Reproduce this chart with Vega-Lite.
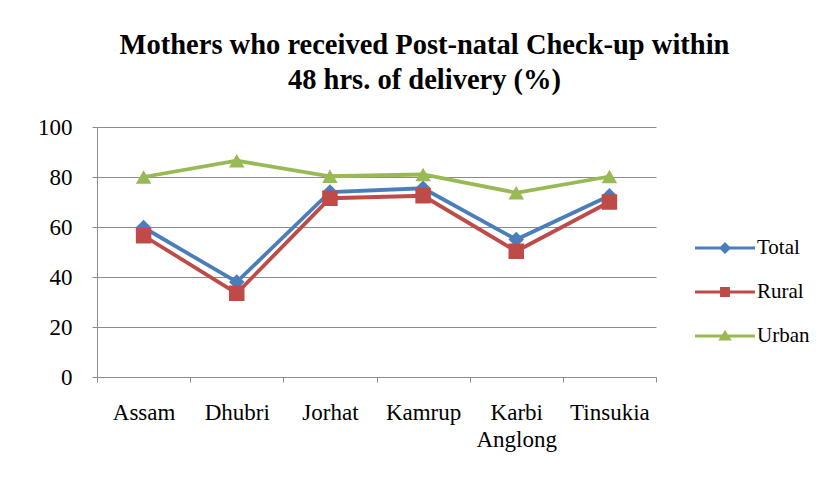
{
  "$schema": "https://vega.github.io/schema/vega-lite/v6.json",
  "width": 559,
  "height": 250,
  "autosize": {"type": "none"},
  "padding": {"left": 97, "top": 127, "right": 171, "bottom": 102},
  "background": "white",
  "title": {
    "text": ["Mothers who received  Post-natal Check-up within", "48 hrs. of delivery  (%)"],
    "font": "Liberation Serif, DejaVu Serif, serif",
    "fontSize": 28.5,
    "fontWeight": "bold",
    "color": "black",
    "lineHeight": 35,
    "anchor": "middle",
    "dx": 48,
    "offset": 22
  },
  "config": {
    "view": {"stroke": null},
    "font": "Liberation Serif",
    "axis": {
      "labelFont": "Liberation Serif",
      "labelFontSize": 23,
      "labelColor": "black",
      "domainColor": "#8c8c8c",
      "tickColor": "#8c8c8c",
      "gridColor": "#8c8c8c",
      "tickSize": 5,
      "title": null
    }
  },
  "data": {
    "values": [
      {"district": "Assam", "series": "Total", "value": 59.8},
      {"district": "Dhubri", "series": "Total", "value": 38.0},
      {"district": "Jorhat", "series": "Total", "value": 74.0},
      {"district": "Kamrup", "series": "Total", "value": 75.5},
      {"district": "Karbi Anglong", "series": "Total", "value": 55.0},
      {"district": "Tinsukia", "series": "Total", "value": 72.5},
      {"district": "Assam", "series": "Rural", "value": 56.5},
      {"district": "Dhubri", "series": "Rural", "value": 33.5},
      {"district": "Jorhat", "series": "Rural", "value": 71.5},
      {"district": "Kamrup", "series": "Rural", "value": 72.5},
      {"district": "Karbi Anglong", "series": "Rural", "value": 50.3},
      {"district": "Tinsukia", "series": "Rural", "value": 70.0},
      {"district": "Assam", "series": "Urban", "value": 80.0},
      {"district": "Dhubri", "series": "Urban", "value": 86.5},
      {"district": "Jorhat", "series": "Urban", "value": 80.3},
      {"district": "Kamrup", "series": "Urban", "value": 81.0},
      {"district": "Karbi Anglong", "series": "Urban", "value": 73.7},
      {"district": "Tinsukia", "series": "Urban", "value": 80.2}
    ]
  },
  "encoding": {
    "x": {
      "field": "district",
      "type": "nominal",
      "sort": null,
      "scale": {"paddingInner": 0, "paddingOuter": 0},
      "axis": {
        "labelAngle": 0,
        "labelPadding": 19,
        "labelLineHeight": 27,
        "labelBaseline": "top",
        "labelExpr": "split(datum.label, ' ')",
        "tickBand": "extent",
        "grid": false
      }
    },
    "y": {
      "field": "value",
      "type": "quantitative",
      "scale": {"domain": [0, 100]},
      "axis": {"values": [0, 20, 40, 60, 80, 100], "labelPadding": 20, "grid": true, "gridWidth": 1}
    }
  },
  "layer": [
    {
      "mark": {"type": "line", "strokeWidth": 3.8},
      "encoding": {
        "color": {
          "field": "series",
          "type": "nominal",
          "sort": null,
          "scale": {"domain": ["Total", "Rural", "Urban"], "range": ["#4a7ebb", "#be4b48", "#98b954"]},
          "legend": null
        }
      }
    },
    {
      "mark": {"type": "point", "filled": true, "opacity": 1, "size": 240},
      "encoding": {
        "color": {
          "field": "series",
          "type": "nominal",
          "scale": {"domain": ["Total", "Rural", "Urban"], "range": ["#4a7ebb", "#be4b48", "#98b954"]},
          "legend": null
        },
        "shape": {
          "field": "series",
          "type": "nominal",
          "scale": {"domain": ["Total", "Rural", "Urban"], "range": ["diamond", "square", "triangle-up"]},
          "legend": null
        }
      }
    },
    {
      "transform": [{"filter": "false"}],
      "mark": {"type": "point", "filled": true, "opacity": 1},
      "encoding": {
        "color": {
          "field": "series",
          "type": "nominal",
          "scale": {"domain": ["Total", "Rural", "Urban"], "range": ["#4a7ebb", "#be4b48", "#98b954"]},
          "legend": {
            "title": null,
            "orient": "none",
            "legendX": 628,
            "legendY": 106,
            "symbolSize": 900,
            "rowPadding": 19,
            "labelFont": "Liberation Serif",
            "labelFontSize": 21,
            "labelColor": "black",
            "labelOffset": 2,
            "symbolOpacity": 1,
            "symbolStrokeWidth": 0
          }
        },
        "shape": {
          "field": "series",
          "type": "nominal",
          "scale": {
            "domain": ["Total", "Rural", "Urban"],
            "range": [
              "M-3,-0.1H1V0.1H-3Z M-1,-0.4L-0.6,0L-1,0.4L-1.4,0Z",
              "M-3,-0.1H1V0.1H-3Z M-1.33,-0.33H-0.67V0.33H-1.33Z",
              "M-3,-0.1H1V0.1H-3Z M-1,-0.4L-0.55,0.3H-1.45Z"
            ]
          },
          "legend": {
            "title": null,
            "orient": "none",
            "legendX": 628,
            "legendY": 106,
            "symbolSize": 900,
            "rowPadding": 19,
            "labelFont": "Liberation Serif",
            "labelFontSize": 21,
            "labelColor": "black",
            "labelOffset": 2,
            "symbolOpacity": 1,
            "symbolStrokeWidth": 0
          }
        }
      }
    }
  ],
  "resolve": {"scale": {"shape": "independent", "color": "independent"}}
}
